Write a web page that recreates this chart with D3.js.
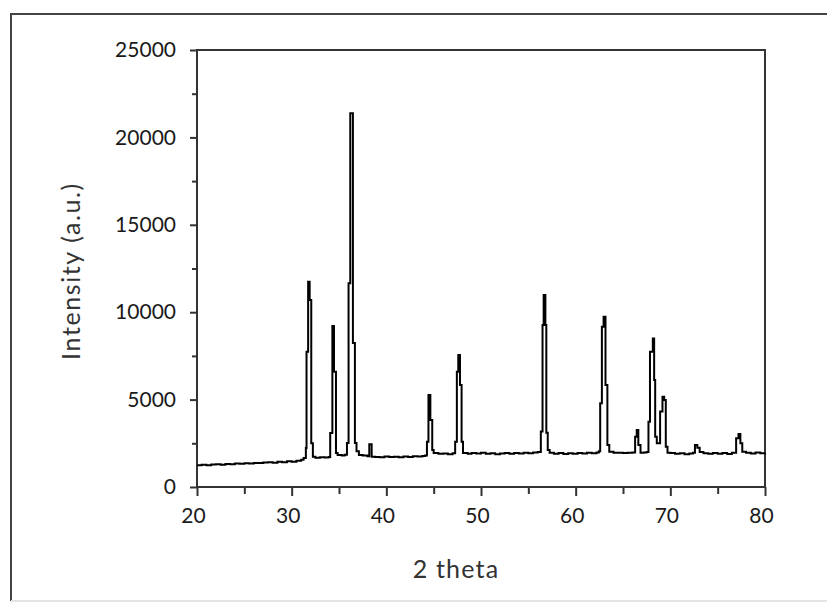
<!DOCTYPE html>
<html>
<head>
<meta charset="utf-8">
<script src="https://cdn.jsdelivr.net/npm/d3@7"></script>
<style>
  body { margin: 0; background: #fff; }
  svg text { font-family: Lato, "Open Sans", sans-serif; fill: #1a1a1a; }
</style>
</head>
<body>
<div id="chart"></div>
<script>
// XRD pattern (step points)
var twoTheta = [
  20.0, 20.5, 21.0, 21.5, 22.0, 22.5, 23.0, 23.5, 24.0, 24.5, 25.0, 25.5, 26.0, 26.5, 27.0, 27.5,
  28.0, 28.5, 29.0, 29.5, 30.0, 30.5, 31.0, 31.26, 31.5, 31.57, 31.74, 31.9, 32.07, 32.24, 32.5,
  33.0, 33.5, 33.9, 34.07, 34.3, 34.47, 34.68, 34.85, 35.3, 35.6, 35.84, 36.01, 36.19, 36.47, 36.68,
  36.85, 37.1, 37.5, 38.0, 38.2, 38.45, 38.8, 39.3, 39.8, 40.3, 40.8, 41.3, 41.8, 42.3, 42.8, 43.3,
  43.8, 44.1, 44.29, 44.45, 44.65, 44.85, 45.0, 45.5, 46.0, 46.5, 47.0, 47.27, 47.45, 47.6, 47.78,
  47.95, 48.1, 48.6, 49.0, 49.5, 50.0, 50.5, 51.0, 51.5, 52.0, 52.5, 53.0, 53.5, 54.0, 54.5, 55.0,
  55.5, 56.0, 56.32, 56.5, 56.62, 56.8, 56.9, 57.05, 57.25, 57.7, 58.2, 58.7, 59.2, 59.7, 60.2,
  60.7, 61.2, 61.7, 62.2, 62.45, 62.59, 62.77, 62.95, 63.15, 63.35, 63.55, 64.0, 64.5, 65.0, 65.5,
  66.0, 66.28, 66.45, 66.62, 66.85, 67.2, 67.5, 67.69, 67.85, 68.15, 68.29, 68.4, 68.57, 68.92,
  69.17, 69.35, 69.52, 69.7, 70.0, 70.5, 71.0, 71.5, 72.0, 72.4, 72.6, 72.85, 73.1, 73.5, 74.0,
  74.5, 75.0, 75.5, 76.0, 76.5, 76.95, 77.2, 77.4, 77.6, 78.0, 78.5, 79.0, 79.5, 80.0
];
var intensity = [
  1250, 1270, 1240, 1290, 1300, 1280, 1320, 1300, 1340, 1330, 1360, 1350, 1380, 1370, 1400, 1420,
  1390, 1440, 1420, 1470, 1450, 1500, 1560, 1660, 2230, 7740, 11745, 10700, 2500, 1730, 1680,
  1700, 1690, 1720, 3090, 9210, 6600, 1945, 1830, 1800, 1850, 2520, 11650, 21380, 8240, 2520,
  2050, 1830, 1800, 1760, 2450, 1730, 1720, 1700, 1740, 1710, 1730, 1700, 1750, 1720, 1760, 1740,
  1780, 1800, 2590, 5260, 3830, 2120, 1945, 1900, 1920, 1880, 1930, 2590, 6600, 7550, 5840,
  2590, 1945, 1900, 1950, 1920, 1960, 1900, 1930, 1880, 1910, 1950, 1900, 1940, 1920, 1960, 1930,
  1970, 2000, 3170, 9270, 10980, 9270, 3110, 2120, 1960, 1900, 1940, 1890, 1930, 1900, 1950,
  1920, 1960, 1930, 1970, 2050, 4790, 9170, 9740, 5840, 2400, 2020, 1960, 1960, 1950, 1960,
  1970, 2880, 3260, 2400, 1960, 1980, 2000, 3740, 7740, 8500, 6120, 2880, 2500, 4320,
  5170, 4980, 2300, 1960, 1940, 1900, 1930, 1880, 1920, 1960, 2400, 2250, 2000, 1930, 1900,
  1950, 1900, 1940, 1890, 1960, 2790, 3030, 2500, 2020, 1960, 1920, 1980, 1930, 1960
];
var xTicks = [20, 30, 40, 50, 60, 70, 80];
var xMinorTicks = [25, 35, 45, 55, 65, 75];
var yTicks = [0, 5000, 10000, 15000, 20000, 25000];
var yMinorTicks = [2500, 7500, 12500, 17500, 22500];
var xTitle = "2 theta";
var yTitle = "Intensity (a.u.)";

var W = 827, H = 604;
var plot = { left: 197, right: 765, top: 50, bottom: 487 };

var svg = d3.select("#chart").append("svg")
    .attr("width", W)
    .attr("height", H);

// outer frame of the picture
svg.append("line").attr("x1", 11).attr("y1", 14).attr("x2", W).attr("y2", 14)
    .attr("stroke", "#444").attr("stroke-width", 2);
svg.append("line").attr("x1", 11).attr("y1", 13).attr("x2", 11).attr("y2", 601)
    .attr("stroke", "#444").attr("stroke-width", 2);
svg.append("line").attr("x1", 11).attr("y1", 601).attr("x2", W).attr("y2", 601)
    .attr("stroke", "#e4e4e4").attr("stroke-width", 2);

var x = d3.scaleLinear().domain([20, 80]).range([plot.left, plot.right]);
var y = d3.scaleLinear().domain([0, 25000]).range([plot.bottom, plot.top]);

// box
svg.append("rect")
    .attr("x", plot.left).attr("y", plot.top)
    .attr("width", plot.right - plot.left).attr("height", plot.bottom - plot.top)
    .attr("fill", "none").attr("stroke", "#333").attr("stroke-width", 2);

// x axis
var xAxis = svg.append("g").attr("transform", "translate(0," + plot.bottom + ")");
xAxis.call(d3.axisBottom(x).tickValues(xTicks).tickSize(9).tickPadding(8).tickFormat(d3.format("d")));
xAxis.append("g").call(d3.axisBottom(x).tickValues(xMinorTicks).tickSize(7).tickFormat(""));
xAxis.selectAll(".domain").remove();
xAxis.selectAll("line").attr("stroke", "#333").attr("stroke-width", 2);
xAxis.selectAll("text").attr("font-size", 21).attr("dx", -4).attr("dy", "0.9em");

// y axis
var yAxis = svg.append("g").attr("transform", "translate(" + plot.left + ",0)");
yAxis.call(d3.axisLeft(y).tickValues(yTicks).tickSize(7).tickPadding(14).tickFormat(d3.format("d")));
yAxis.append("g").call(d3.axisLeft(y).tickValues(yMinorTicks).tickSize(5).tickFormat(""));
yAxis.selectAll(".domain").remove();
yAxis.selectAll("line").attr("stroke", "#333").attr("stroke-width", 2);
yAxis.selectAll("text").attr("font-size", 21);

// data
var pts = twoTheta.map(function(t, i) { return [t, intensity[i]]; });
var line = d3.line()
    .x(function(d) { return x(d[0]); })
    .y(function(d) { return y(d[1]); })
    .curve(d3.curveStepAfter);

svg.append("path")
    .datum(pts)
    .attr("d", line)
    .attr("fill", "none")
    .attr("stroke", "#000")
    .attr("stroke-width", 2)
    .attr("stroke-linejoin", "miter");

// titles
svg.append("text")
    .attr("x", 456).attr("y", 578)
    .attr("text-anchor", "middle")
    .attr("font-size", 25)
    .attr("letter-spacing", 1.2)
    .style("fill", "#333")
    .text(xTitle);

svg.append("text")
    .attr("transform", "translate(80,271) rotate(-90)")
    .attr("text-anchor", "middle")
    .attr("font-size", 25)
    .attr("letter-spacing", 1.6)
    .style("fill", "#333")
    .text(yTitle);
</script>
</body>
</html>
